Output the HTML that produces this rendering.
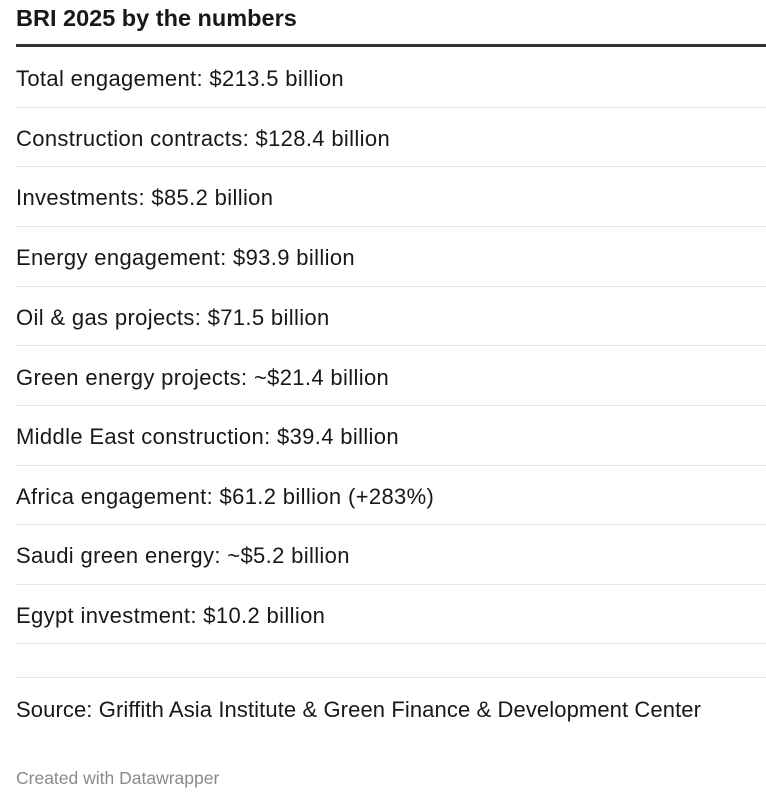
<!DOCTYPE html>
<html><head><meta charset="utf-8"><style>
body{margin:0;width:766px;height:806px;background:#fff;font-family:"Liberation Sans",sans-serif;color:#181818;position:relative;overflow:hidden}
.t{position:absolute;left:16px;white-space:nowrap;line-height:1}
.h{font-weight:bold;font-size:23.5px;top:7px}
.r{font-size:22px;letter-spacing:0.35px}
.l{position:absolute;left:16px;right:0;height:1px;background:#e6e6e6}
</style></head><body>
<div class="t h">BRI 2025 by the numbers</div>
<div class="l" style="top:44px;height:3px;background:#333"></div>
<div class="t r" style="top:68px">Total engagement: $213.5 billion</div>
<div class="l" style="top:107px"></div>
<div class="t r" style="top:128px">Construction contracts: $128.4 billion</div>
<div class="l" style="top:166px"></div>
<div class="t r" style="top:187px">Investments: $85.2 billion</div>
<div class="l" style="top:226px"></div>
<div class="t r" style="top:247px">Energy engagement: $93.9 billion</div>
<div class="l" style="top:286px"></div>
<div class="t r" style="top:307px">Oil &amp; gas projects: $71.5 billion</div>
<div class="l" style="top:345px"></div>
<div class="t r" style="top:367px">Green energy projects: ~$21.4 billion</div>
<div class="l" style="top:405px"></div>
<div class="t r" style="top:426px">Middle East construction: $39.4 billion</div>
<div class="l" style="top:465px"></div>
<div class="t r" style="top:486px">Africa engagement: $61.2 billion (+283%)</div>
<div class="l" style="top:524px"></div>
<div class="t r" style="top:545px">Saudi green energy: ~$5.2 billion</div>
<div class="l" style="top:584px"></div>
<div class="t r" style="top:605px">Egypt investment: $10.2 billion</div>
<div class="l" style="top:643px"></div>
<div class="l" style="top:677px"></div>
<div class="t r" style="top:699px;letter-spacing:0.1px">Source: Griffith Asia Institute &amp; Green Finance &amp; Development Center</div>
<div class="t" style="top:770px;font-size:17.5px;color:#8a8a8a">Created with Datawrapper</div>
</body></html>
